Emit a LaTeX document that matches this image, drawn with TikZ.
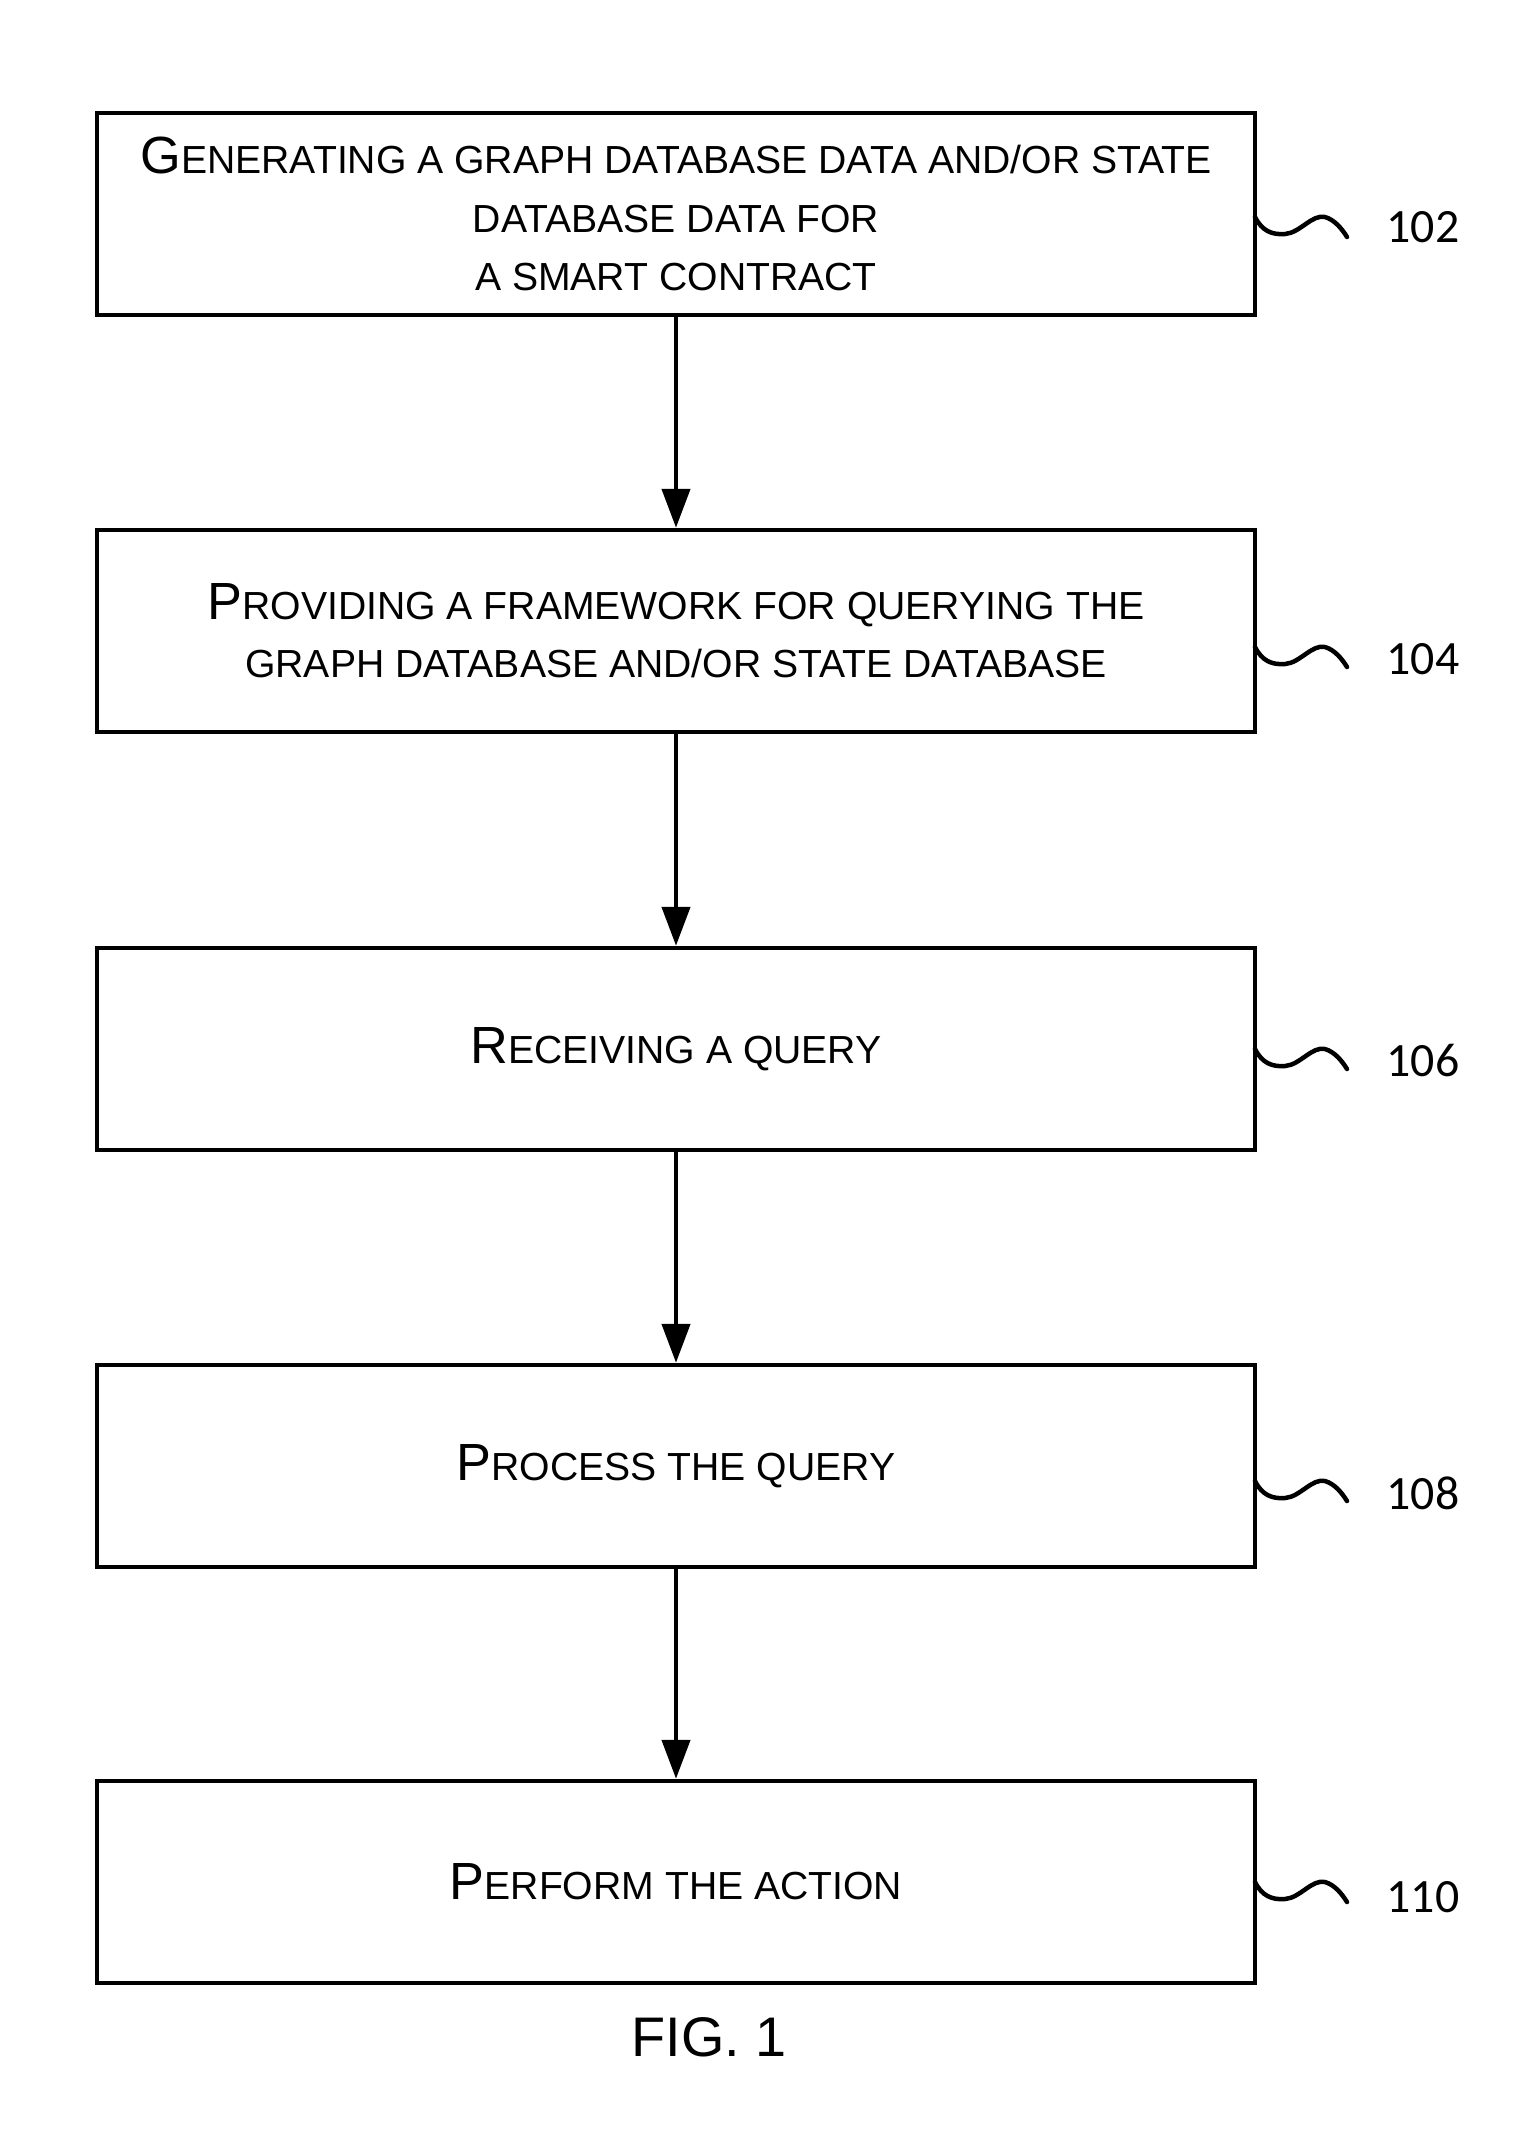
\documentclass[tikz,border=0pt]{standalone}
\usepackage{fontspec}
\setmainfont{Liberation Sans}
\newfontfamily\numfont{Carlito}
\usetikzlibrary{arrows.meta}
\newcommand\BigL[1]{{\fontsize{52.5}{58.5}\selectfont #1}}
\begin{document}
\begin{tikzpicture}[x=1bp,y=-1bp,
  stepbox/.style={draw, line width=4.5bp, minimum width=1158bp, minimum height=202bp,
    inner sep=0pt, align=center, font=\fontsize{39.3}{58.5}\selectfont},
  flow/.style={line width=4.5bp, -{Triangle[length=39bp,width=28bp]}},
  squig/.style={line width=4.5bp, line cap=round},
  refnum/.style={font=\numfont\fontsize{48}{48}\selectfont, inner sep=0pt}]
\useasboundingbox (0,0) rectangle (1532,2129);

\node[stepbox] (b1) at (676,214) {\BigL{G}ENERATING A GRAPH DATABASE DATA AND/OR STATE\\DATABASE DATA FOR\\A SMART CONTRACT};
\node[stepbox] (b2) at (676,631) {\BigL{P}ROVIDING A FRAMEWORK FOR QUERYING THE\\GRAPH DATABASE AND/OR STATE DATABASE};
\node[stepbox] (b3) at (676,1049) {\BigL{R}ECEIVING A QUERY};
\node[stepbox] (b4) at (676,1466) {\BigL{P}ROCESS THE QUERY};
\node[stepbox] (b5) at (676,1882) {\BigL{P}ERFORM THE ACTION};

\draw[flow] (b1.south) -- (b2.north);
\draw[flow] (b2.south) -- (b3.north);
\draw[flow] (b3.south) -- (b4.north);
\draw[flow] (b4.south) -- (b5.north);

\node[refnum] (l1) at (1423,227) {102};
\node[refnum] (l2) at (1423,659) {104};
\node[refnum] (l3) at (1423,1061) {106};
\node[refnum] (l4) at (1423,1493) {108};
\node[refnum] (l5) at (1423,1897) {110};

\foreach \i/\y in {1/217,2/647,3/1049,4/1481,5/1882}{
  \coordinate (s\i) at (1255,\y);
  \draw[squig] (s\i) .. controls (1262,\y+14) and (1272,\y+18) .. (1285,\y+17)
    .. controls (1300,\y+16) and (1312,\y-3) .. (1325,\y)
    .. controls (1335,\y+3) and (1342,\y+12) .. (1347,\y+20);
}

\node[font=\fontsize{56}{56}\selectfont, inner sep=0pt] (fig) at (709,2037) {FIG. 1};
\end{tikzpicture}
\end{document}
